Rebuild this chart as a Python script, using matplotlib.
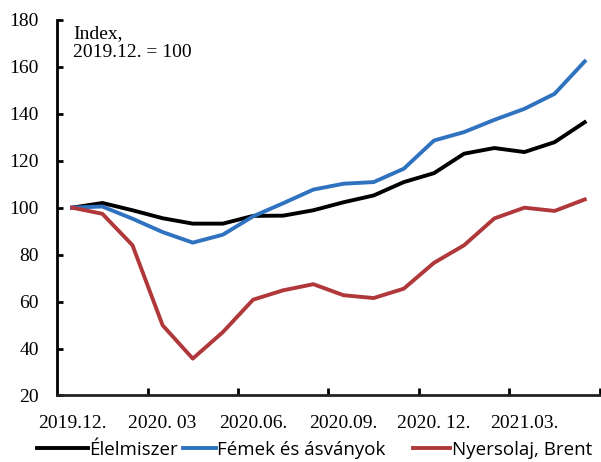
import numpy as np
import matplotlib.pyplot as plt
from matplotlib.ticker import FixedLocator

# havi adatok, 2019.12. - 2021.05. (2019.12. = 100)
honapok = ["2019.12.", "2020.01", "2020.02", "2020. 03", "2020.04", "2020.05",
           "2020.06.", "2020.07", "2020.08", "2020.09.", "2020.10", "2020.11",
           "2020. 12.", "2021.01", "2021.02", "2021.03.", "2021.04", "2021.05"]
elelmiszer = [100, 102, 98.9, 95.5, 93.2, 93.2, 96.5, 96.6, 98.9, 102.3,
              105.2, 110.9, 114.7, 123.0, 125.4, 123.7, 127.9, 136.4]
femek = [100, 100.5, 95.3, 89.6, 85.1, 88.5, 96.3, 101.9, 107.7, 110.2,
         110.9, 116.6, 128.6, 132.2, 137.4, 142.1, 148.5, 162.3]
brent = [100, 97.4, 84.0, 49.9, 35.7, 47.0, 60.8, 64.8, 67.4, 62.7,
         61.5, 65.5, 76.5, 84.0, 95.4, 100.0, 98.6, 103.5]
cimke_idx = [0, 3, 6, 9, 12, 15]

plt.rcParams["font.family"] = ["Liberation Serif", "DejaVu Serif"]

fig = plt.figure(figsize=(6.01, 4.62), dpi=100)
ax = fig.add_axes([0.095, 0.144, 0.903, 0.813])

x = np.arange(len(honapok))
l1, = ax.plot(x, elelmiszer, color="black", lw=2.8, label="Élelmiszer")
l2, = ax.plot(x, femek, color="#2F72C0", lw=2.8, label="Fémek és ásványok")
l3, = ax.plot(x, brent, color="#B0383A", lw=2.8, label="Nyersolaj, Brent")

ax.set_xlim(-0.5, len(honapok) - 0.5)
ax.set_ylim(20, 180)
ax.set_yticks(np.arange(20, 181, 20))

# osztásjelek a kategóriák határán, feliratok a kategóriák alatt
ax.xaxis.set_major_locator(FixedLocator(np.arange(2.5, len(honapok), 3)))
ax.xaxis.set_major_formatter(plt.NullFormatter())
ax.set_xticks(cimke_idx, [honapok[i] for i in cimke_idx], minor=True)
ax.tick_params(axis="x", which="major", direction="in", length=5, width=2)
ax.tick_params(axis="x", which="minor", length=0, pad=14, labelsize=14)
ax.tick_params(axis="y", direction="in", length=4, width=2, labelsize=14, pad=13)

for s in ["top", "right"]:
    ax.spines[s].set_visible(False)
ax.spines["left"].set_linewidth(2)
ax.spines["bottom"].set_linewidth(2)
ax.spines["bottom"].set_color("#222222")

ax.text(0.03, 0.985, "Index,\n2019.12. = 100", transform=ax.transAxes,
        fontsize=14, va="top", ha="left", linespacing=1.15)

# jelmagyarázat: három külön elem, eltérő vonalhosszal
for ln, x0, hl in [(l1, 0.062, 2.7), (l2, 0.304, 1.75), (l3, 0.687, 2.0)]:
    fig.legend(handles=[ln], loc="center left", bbox_to_anchor=(x0, 0.027),
               frameon=False, prop={"family": "Open Sans", "size": 13.5},
               handlelength=hl, handletextpad=0.08, borderpad=0,
               borderaxespad=0)

fig.savefig("out.png", dpi=100)
